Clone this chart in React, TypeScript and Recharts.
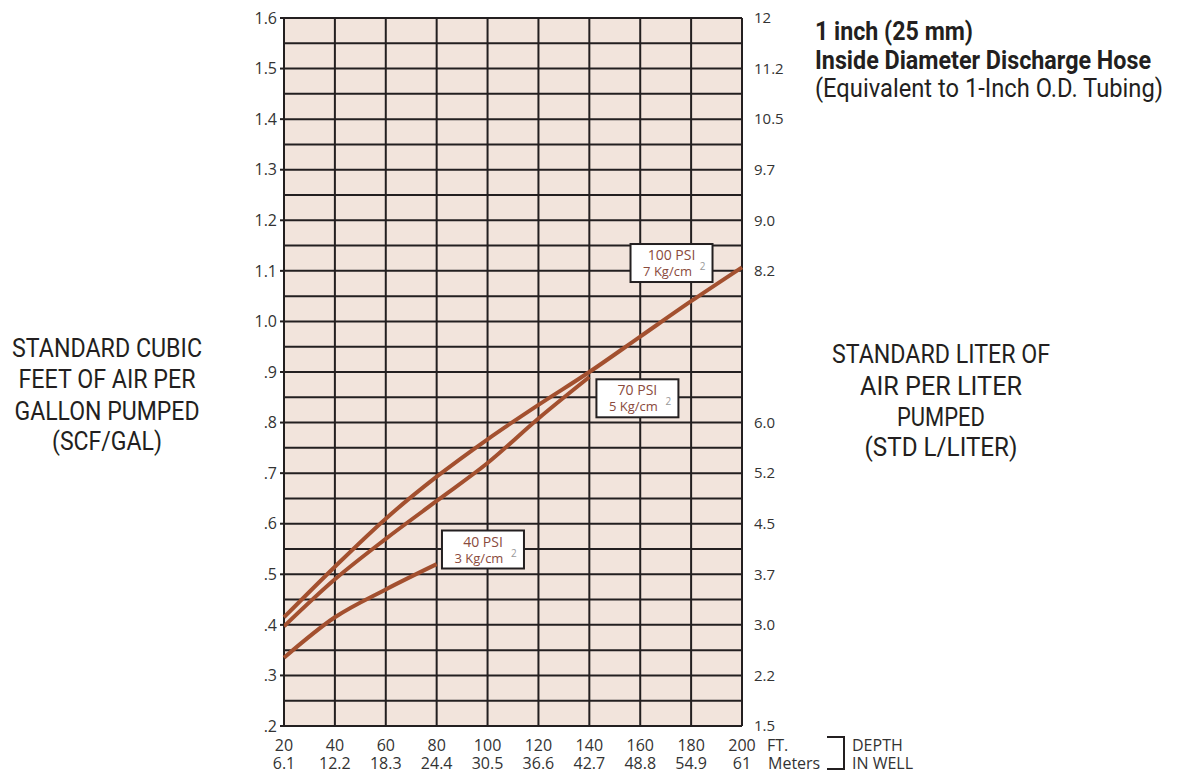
import { LineChart, Line, XAxis, YAxis, CartesianGrid, ReferenceDot } from "recharts";

const depthFeet = [20, 40, 60, 80, 100, 120, 140, 160, 180, 200];
const depthMeters = ["6.1", "12.2", "18.3", "24.4", "30.5", "36.6", "42.7", "48.8", "54.9", "61"];

const psi100 = [0.415, 0.515, 0.61, 0.693, 0.767, 0.835, 0.9, 0.97, 1.04, 1.107];
const psi70 = [0.397, 0.49, 0.57, 0.645, 0.72, 0.808, 0.89];
const psi40 = [0.335, 0.415, 0.47, 0.52];

const scfTicks = [0.2, 0.3, 0.4, 0.5, 0.6, 0.7, 0.8, 0.9, 1.0, 1.1, 1.2, 1.3, 1.4, 1.5, 1.6];
const scfLabels = [".2", ".3", ".4", ".5", ".6", ".7", ".8", ".9", "1.0", "1.1", "1.2", "1.3", "1.4", "1.5", "1.6"];
const literLabels = ["1.5", "2.2", "3.0", "3.7", "4.5", "5.2", "6.0", "", "", "8.2", "9.0", "9.7", "10.5", "11.2", "12"];

const gridRows = [
  0.2, 0.25, 0.3, 0.35, 0.4, 0.45, 0.5, 0.55, 0.6, 0.65, 0.7, 0.75, 0.8, 0.85, 0.9, 0.95, 1.0, 1.05, 1.1, 1.15,
  1.2, 1.25, 1.3, 1.35, 1.4, 1.45, 1.5, 1.55, 1.6,
];

const data = depthFeet.map((ft, i) => ({
  ft,
  p100: psi100[i],
  p70: psi70[i] ?? null,
  p40: psi40[i] ?? null,
}));

const INK = "#231f20";
const CURVE = "#a3502f";
const TICK_FONT = "'Open Sans', 'Noto Sans', sans-serif";
const LABEL_FONT = "Roboto, sans-serif";

function FeetTick({ x, y, payload }: any) {
  const i = depthFeet.indexOf(payload.value);
  return (
    <g fontFamily={TICK_FONT} fontSize={16} fill="#333">
      <text x={x} y={y + 25} textAnchor="middle">{payload.value}</text>
      <text x={x} y={y + 43} textAnchor="middle">{depthMeters[i]}</text>
    </g>
  );
}

function PsiBox(psi: string, kg: string) {
  return ({ cx, cy }: any) => (
    <g fontFamily={TICK_FONT}>
      <rect x={cx - 41} y={cy - 19} width={82} height={38} fill="#fff" stroke={INK} strokeWidth={2} />
      <text x={cx} y={cy - 3} textAnchor="middle" fontSize={14} fill="#8a4a3c">{psi}</text>
      <text x={cx - 4} y={cy + 13} textAnchor="middle" fontSize={13} fill="#8a4a3c">{kg}</text>
      <text x={cx + 31} y={cy + 7} textAnchor="middle" fontSize={10} fill="#999">2</text>
    </g>
  );
}

export default function App() {
  return (
    <div style={{ position: "absolute", left: 0, top: 0, width: 1187, height: 776, background: "#fff" }}>
      <LineChart
        width={1187}
        height={776}
        data={data}
        margin={{ top: 18, right: 385, bottom: 5, left: 244 }}
      >
        <CartesianGrid
          fill="#f2e4dc"
          fillOpacity={1}
          stroke={INK}
          strokeWidth={2}
          strokeOpacity={1}
          horizontalValues={gridRows}
          verticalValues={depthFeet}
        />
        <XAxis
          dataKey="ft"
          type="number"
          domain={[20, 200]}
          ticks={depthFeet}
          interval={0}
          height={45}
          axisLine={false}
          tickLine={false}
          tickSize={0}
          tickMargin={0}
          tick={<FeetTick />}
        />
        <YAxis
          type="number"
          domain={[0.2, 1.6]}
          ticks={scfTicks}
          interval={0}
          allowDataOverflow
          width={40}
          axisLine={false}
          tickLine={{ stroke: INK, strokeWidth: 2 }}
          tickSize={4}
          tickMargin={3}
          tickFormatter={(_v: number, i: number) => scfLabels[i]}
          tick={{ fontSize: 16, fill: "#333", fontFamily: TICK_FONT }}
        />
        <YAxis
          yAxisId="right"
          orientation="right"
          type="number"
          domain={[0.2, 1.6]}
          ticks={scfTicks}
          interval={0}
          allowDataOverflow
          width={60}
          axisLine={false}
          tickLine={false}
          tickSize={0}
          tickMargin={12}
          tickFormatter={(_v: number, i: number) => literLabels[i]}
          tick={{ fontSize: 15, fill: "#333", fontFamily: TICK_FONT, textAnchor: "start" }}
        />
        <Line type="monotone" dataKey="p100" stroke={CURVE} strokeWidth={4} dot={false} isAnimationActive={false} />
        <Line type="monotone" dataKey="p70" stroke={CURVE} strokeWidth={4} dot={false} isAnimationActive={false} />
        <Line type="monotone" dataKey="p40" stroke={CURVE} strokeWidth={4} dot={false} isAnimationActive={false} />
        <ReferenceDot x={98.2} y={0.549} r={0} shape={PsiBox("40 PSI", "3 Kg/cm")} />
        <ReferenceDot x={158.9} y={0.848} r={0} shape={PsiBox("70 PSI", "5 Kg/cm")} />
        <ReferenceDot x={172.3} y={1.1155} r={0} shape={PsiBox("100 PSI", "7 Kg/cm")} />
      </LineChart>

      <svg
        width={1187}
        height={776}
        style={{ position: "absolute", left: 0, top: 0, pointerEvents: "none" }}
      >
        <g fontFamily={LABEL_FONT} fontSize={25} fill={INK}>
          <text x={815} y={40} fontWeight={700} textLength={158} lengthAdjust="spacingAndGlyphs">1 inch (25 mm)</text>
          <text x={815} y={69} fontWeight={700} textLength={336} lengthAdjust="spacingAndGlyphs">Inside Diameter Discharge Hose</text>
          <text x={815} y={97} textLength={348} lengthAdjust="spacingAndGlyphs">(Equivalent to 1-Inch O.D. Tubing)</text>

          <text x={107} y={357} textAnchor="middle" textLength={190} lengthAdjust="spacingAndGlyphs">STANDARD CUBIC</text>
          <text x={107} y={388} textAnchor="middle" textLength={177} lengthAdjust="spacingAndGlyphs">FEET OF AIR PER</text>
          <text x={107} y={420} textAnchor="middle" textLength={185} lengthAdjust="spacingAndGlyphs">GALLON PUMPED</text>
          <text x={107} y={450} textAnchor="middle" textLength={110} lengthAdjust="spacingAndGlyphs">(SCF/GAL)</text>

          <text x={941} y={363} textAnchor="middle" textLength={218} lengthAdjust="spacingAndGlyphs">STANDARD LITER OF</text>
          <text x={941} y={395} textAnchor="middle" textLength={162} lengthAdjust="spacingAndGlyphs">AIR PER LITER</text>
          <text x={941} y={426} textAnchor="middle" textLength={88} lengthAdjust="spacingAndGlyphs">PUMPED</text>
          <text x={941} y={456} textAnchor="middle" textLength={153} lengthAdjust="spacingAndGlyphs">(STD L/LITER)</text>
        </g>
        <g fontFamily={TICK_FONT} fontSize={16} fill="#333">
          <text x={767} y={751}>FT.</text>
          <text x={768} y={769}>Meters</text>
          <text x={852} y={751}>DEPTH</text>
          <text x={852} y={769}>IN WELL</text>
        </g>
        <path d="M827 737 H844 V769 H827" fill="none" stroke={INK} strokeWidth={2} />
      </svg>
    </div>
  );
}
